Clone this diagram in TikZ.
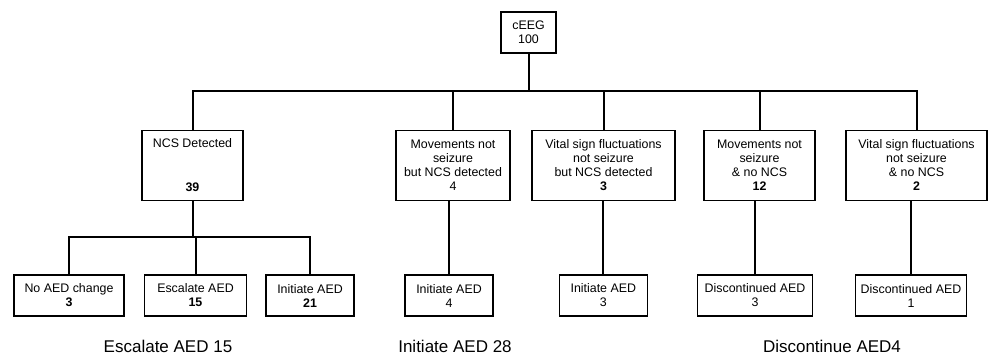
\documentclass[tikz,border=0pt]{standalone}
\usepackage{fontspec}
\setmainfont{Liberation Sans}
\begin{document}
\begin{tikzpicture}[x=1pt,y=-1pt,
  box/.style={draw=black,line width=1.2pt,fill=white,inner sep=0pt,align=center,
    font=\fontsize{12.4}{14}\selectfont},
  conn/.style={draw=black,line width=2pt},
  summary/.style={inner sep=0pt,font=\fontsize{17}{20}\selectfont}]
\useasboundingbox (0,0) rectangle (988,360);
% top
\node[box,minimum width=55pt,minimum height=41pt] (top) at (528.5,32.5) {cEEG\\100};
% level 2
\node[box,minimum width=101pt,minimum height=70pt] (n1) at (192.5,165.5) {NCS Detected\\[30pt]\textbf{39}};
\node[box,minimum width=114pt,minimum height=70pt] (n2) at (453,165.5) {Movements not\\seizure\\but NCS detected\\4};
\node[box,minimum width=143pt,minimum height=70pt] (n3) at (603.5,165.5) {Vital sign fluctuations\\not seizure\\but NCS detected\\\textbf{3}};
\node[box,minimum width=111pt,minimum height=70pt] (n4) at (759.5,165.5) {Movements not\\seizure\\\& no NCS\\\textbf{12}};
\node[box,minimum width=141pt,minimum height=70pt] (n5) at (916.5,165.5) {Vital sign fluctuations\\not seizure\\\& no NCS\\\textbf{2}};
% level 3
\node[box,minimum width=110pt,minimum height=41pt] (l1) at (69,295.5) {No AED change\\\textbf{3}};
\node[box,minimum width=102pt,minimum height=41pt] (l2) at (195.5,295.5) {Escalate AED\\\textbf{15}};
\node[box,minimum width=88pt,minimum height=41pt] (l3) at (310,295.5) {Initiate AED\\\textbf{21}};
\node[box,minimum width=88pt,minimum height=41pt] (m2) at (449,295.5) {Initiate AED\\4};
\node[box,minimum width=88pt,minimum height=41pt] (m3) at (603.3,295.5) {Initiate AED\\3};
\node[box,minimum width=115pt,minimum height=41pt] (m4) at (755,295.5) {Discontinued AED\\3};
\node[box,minimum width=111pt,minimum height=41pt] (m5) at (911,295.5) {Discontinued AED\\1};
% summaries
\node[summary] (s1) at (168,346) {Escalate AED 15};
\node[summary] (s2) at (455,346) {Initiate AED 28};
\node[summary] (s3) at (832,346) {Discontinue AED4};
% connectors
\coordinate (bus) at (0,91);
\coordinate (sub) at (0,237);
\draw[conn] (top.south) -- (top.south |- bus);
\draw[conn] (n1.north) -- (n1.north |- bus) -- (n5.north |- bus) -- (n5.north);
\draw[conn] (n2.north) -- (n2.north |- bus);
\draw[conn] (n3.north) -- (n3.north |- bus);
\draw[conn] (n4.north) -- (n4.north |- bus);
\draw[conn] (n1.south) -- (n1.south |- sub);
\draw[conn] (l1.north) -- (l1.north |- sub) -- (l3.north |- sub) -- (l3.north);
\draw[conn] (l2.north) -- (l2.north |- sub);
\draw[conn] (m2.north) -- (m2.north |- n2.south);
\draw[conn] (m3.north) -- (m3.north |- n3.south);
\draw[conn] (m4.north) -- (m4.north |- n4.south);
\draw[conn] (m5.north) -- (m5.north |- n5.south);
\end{tikzpicture}
\end{document}
